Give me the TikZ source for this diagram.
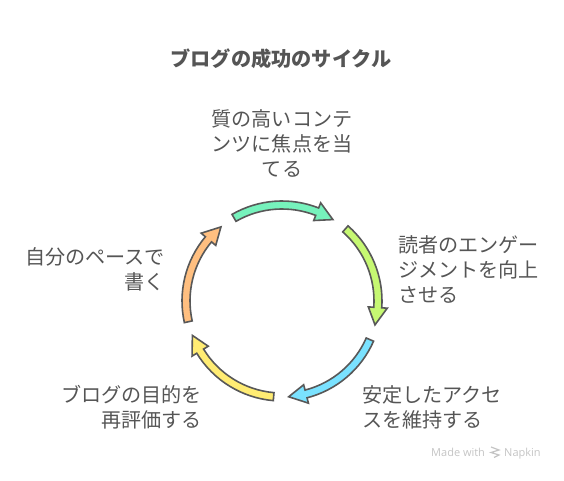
\documentclass[tikz,border=0pt]{standalone}
\usepackage{fontspec}
\setmainfont{Noto Sans CJK JP}
\newfontfamily\logofont{Open Sans}
\usetikzlibrary{positioning}
\definecolor{inkgray}{HTML}{555555}
\definecolor{edgegray}{HTML}{585858}
\definecolor{marklight}{HTML}{C4C4C4}
\definecolor{arcgreen}{HTML}{76F2BC}
\definecolor{arclime}{HTML}{C6F872}
\definecolor{arcblue}{HTML}{7AE2FF}
\definecolor{arcyellow}{HTML}{FFEC73}
\definecolor{arcorange}{HTML}{FFBF80}
\tikzset{
  titlebox/.style={font=\fontsize{20.2}{25}\selectfont\bfseries,text=inkgray,inner sep=0pt},
  stepbox/.style={font=\fontsize{20.1}{25}\selectfont,text=inkgray,inner sep=0pt},
  arcarrow/.style={draw=edgegray,line width=1.6pt,line join=miter},
  markbox/.style={font=\logofont\fontsize{11}{14}\selectfont,text=marklight,inner sep=0pt},
}
% clockwise arc arrow: start angle, tip angle, fill
\newcommand{\cyclearrow}[3]{
  \pgfmathsetmacro{\headbase}{#2+10.5}
  \draw[arcarrow,fill=#3] (#1:100)
    arc[start angle=#1,end angle=\headbase,radius=100]
    -- (\headbase:105.5) -- (#2:96) -- (\headbase:86.5)
    -- (\headbase:92)
    arc[start angle=\headbase,end angle=#1,radius=92] -- cycle;
}
\begin{document}
\begin{tikzpicture}[x=1pt,y=1pt]
  \useasboundingbox (0,0) rectangle (564,480);

  % title
  \node[titlebox] (title) at (281,421) {ブログの成功のサイクル};

  % steps
  \node[stepbox,align=center] (quality) at (282,337)
    {質の高いコンテ\\ンツに焦点を当\\てる};
  \node[stepbox,align=left,anchor=west] (engage) at (398,210.5)
    {読者のエンゲー\\ジメントを向上\\させる};
  \node[stepbox,align=left,anchor=west] (access) at (362,73)
    {安定したアクセ\\スを維持する};
  \node[stepbox,align=right,anchor=east] (review) at (202,73)
    {ブログの目的を\\再評価する};
  \node[stepbox,align=right,anchor=east] (pace) at (165,210.5)
    {自分のペースで\\書く};

  % cycle arrows
  \begin{scope}[shift={(282,179)}]
    \cyclearrow{120}{58}{arcgreen}
    \cyclearrow{48.7}{-14.4}{arclime}
    \cyclearrow{-23.7}{-86}{arcblue}
    \cyclearrow{-95}{-159}{arcyellow}
    \cyclearrow{-167.5}{-230.5}{arcorange}
  \end{scope}

  % made with
  \node[markbox,anchor=base west] (made) at (431,24) {Made with};
  \node[markbox,anchor=base west] (napkin) at (504,24) {Napkin};
  \draw[marklight,line width=1.2pt] (491,33) -- (499,30) -- (491,27.5) -- (499,25) -- (494,22.5);
\end{tikzpicture}
\end{document}
